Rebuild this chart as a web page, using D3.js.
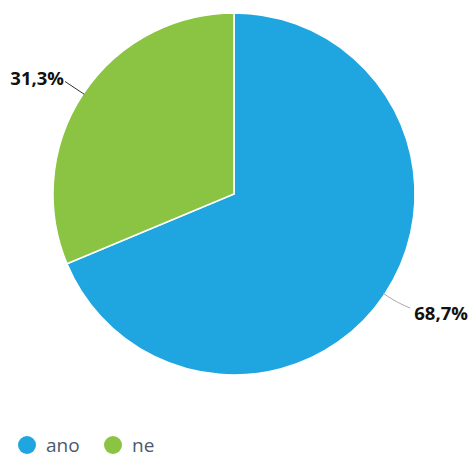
<!DOCTYPE html>
<html>
<head>
<meta charset="utf-8">
<script src="https://cdn.jsdelivr.net/npm/d3@7"></script>
<style>
  html, body { margin: 0; padding: 0; background: #fff; }
  svg { display: block; }
</style>
</head>
<body>
<svg id="chart" width="475" height="459"></svg>
<script>
const categories = ["ano", "ne"];
const values = [68.7, 31.3];
const labels = ["68,7%", "31,3%"];
const colors = ["#1fa6e0", "#8bc443"];

const svg = d3.select("#chart");
const cx = 234, cy = 194, r = 181;

const pie = d3.pie().sort(null).value(d => d)(values);
const arc = d3.arc().innerRadius(0).outerRadius(r);

const g = svg.append("g").attr("transform", `translate(${cx},${cy})`);
g.selectAll("path.slice")
  .data(pie)
  .join("path")
  .attr("class", "slice")
  .attr("d", arc)
  .attr("fill", (d, i) => colors[i])
  .attr("stroke", "#fff")
  .attr("stroke-width", 1.5);

// leader lines and value labels
const polar = (a, rr) => [Math.sin(a) * rr, -Math.cos(a) * rr];
pie.forEach((d, i) => {
  const mid = (d.startAngle + d.endAngle) / 2;
  const side = Math.sin(mid) >= 0 ? 1 : -1;
  let pts, tx, ty, stroke;
  if (side > 0) {
    const p0 = polar(mid, r - 2), p1 = polar(mid, r + 14);
    pts = [p0, p1, [p1[0] + 14, p1[1] + 6]];
    tx = pts[2][0] + 4; ty = pts[2][1] + 12;
    stroke = "#aaaaaa";
  } else {
    pts = [polar(mid, r - 1), polar(mid, r + 22)];
    tx = pts[1][0] - 1; ty = pts[1][1] + 3;
    stroke = "#333";
  }
  g.append("path")
    .attr("d", d3.line().curve(d3.curveBasis)(pts))
    .attr("fill", "none")
    .attr("stroke", stroke)
    .attr("stroke-width", 1);
  g.append("text")
    .attr("x", tx)
    .attr("y", ty)
    .attr("text-anchor", side > 0 ? "start" : "end")
    .attr("font-family", "Open Sans, DejaVu Sans, sans-serif")
    .attr("font-weight", "bold")
    .attr("font-size", 18.5)
    .attr("fill", "#111")
    .text(labels[i]);
});

// legend
const legend = svg.append("g").attr("transform", "translate(0,445)");
const items = legend.selectAll("g")
  .data(categories)
  .join("g")
  .attr("transform", (d, i) => `translate(${[27, 113][i]},0)`);
items.append("circle").attr("r", 9).attr("fill", (d, i) => colors[i]);
items.append("text")
  .attr("x", 19)
  .attr("y", 7)
  .attr("font-family", "Open Sans, DejaVu Sans, sans-serif")
  .attr("font-size", 19)
  .attr("fill", "#4a5a6c")
  .text(d => d);
</script>
</body>
</html>
